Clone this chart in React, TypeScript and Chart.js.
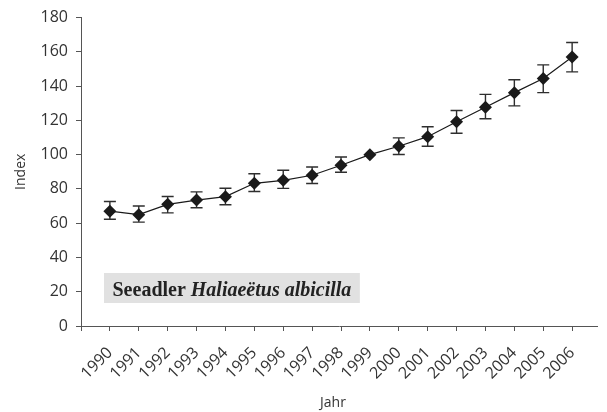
import { useEffect, useRef } from 'react';
import { Chart, registerables } from 'chart.js';

Chart.register(...registerables);

// Seeadler (white-tailed eagle) population index, 1999 = 100
const years = [1990, 1991, 1992, 1993, 1994, 1995, 1996, 1997, 1998, 1999, 2000, 2001, 2002, 2003, 2004, 2005, 2006];
const indexValues = [67, 65, 71, 73.5, 75.5, 83.3, 85, 88, 93.8, 100, 104.9, 110.5, 119.2, 127.7, 136.2, 144.5, 157];
const upperBounds: (number | null)[] = [72.7, 70, 75.6, 78.3, 80.4, 88.9, 90.9, 92.8, 98.6, null, 109.8, 116.3, 125.8, 135.2, 143.7, 152.4, 165.5];
const lowerBounds: (number | null)[] = [62.3, 60.6, 66, 69, 70.8, 78.5, 80.3, 83.2, 89.7, null, 100.1, 104.9, 112.5, 121, 128.5, 136.2, 148.3];
const yTicks = [0, 20, 40, 60, 80, 100, 120, 140, 160, 180];

const xTitle = 'Jahr';
const yTitle = 'Index';
const speciesName = 'Seeadler ';
const speciesLatin = 'Haliaeëtus albicilla';

const sansFont = '"Open Sans", "DejaVu Sans", sans-serif';
const serifFont = '"Liberation Serif", "DejaVu Serif", serif';
const axisColor = '#555555';
const textColor = '#333333';

const errorBars = {
  id: 'errorBars',
  beforeDatasetsDraw(chart: any) {
    const { ctx, scales } = chart;
    const x = scales.x;
    const y = scales.y;
    ctx.save();
    ctx.strokeStyle = '#2e2e2e';
    ctx.lineWidth = 1.4;
    years.forEach((yr, i) => {
      const hi = upperBounds[i];
      const lo = lowerBounds[i];
      if (hi == null || lo == null) return;
      const px = x.getPixelForValue(yr);
      const pt = y.getPixelForValue(hi);
      const pb = y.getPixelForValue(lo);
      ctx.beginPath();
      ctx.moveTo(px, pt);
      ctx.lineTo(px, pb);
      ctx.moveTo(px - 6, pt);
      ctx.lineTo(px + 6, pt);
      ctx.moveTo(px - 6, pb);
      ctx.lineTo(px + 6, pb);
      ctx.stroke();
    });
    ctx.restore();
  },
};

const labels = {
  id: 'labels',
  afterDraw(chart: any) {
    const { ctx, chartArea } = chart;
    ctx.save();
    ctx.fillStyle = textColor;
    ctx.font = `14px ${sansFont}`;
    ctx.textAlign = 'center';
    ctx.textBaseline = 'alphabetic';
    ctx.fillText(xTitle, 333, 407);

    ctx.translate(25, (chartArea.top + chartArea.bottom) / 2);
    ctx.rotate(-Math.PI / 2);
    ctx.fillText(yTitle, 0, 0);
    ctx.restore();

    // species label box
    ctx.save();
    const boldFont = `bold 20px ${serifFont}`;
    const italicFont = `italic bold 20px ${serifFont}`;
    ctx.font = boldFont;
    const w1 = ctx.measureText(speciesName).width;
    ctx.font = italicFont;
    const w2 = ctx.measureText(speciesLatin).width;
    const boxLeft = chartArea.left + 23;
    const boxTop = 273;
    const padX = 8.5;
    ctx.fillStyle = '#e1e1e1';
    ctx.fillRect(boxLeft, boxTop, w1 + w2 + padX * 2, 30);
    ctx.fillStyle = '#222222';
    ctx.textAlign = 'left';
    ctx.textBaseline = 'alphabetic';
    ctx.font = boldFont;
    ctx.fillText(speciesName, boxLeft + padX, 296);
    ctx.font = italicFont;
    ctx.fillText(speciesLatin, boxLeft + padX + w1, 296);
    ctx.restore();
  },
};

export default function App() {
  const canvasRef = useRef<HTMLCanvasElement | null>(null);

  useEffect(() => {
    if (!canvasRef.current) return;
    const chart = new Chart(canvasRef.current, {
      type: 'line',
      data: {
        datasets: [
          {
            data: years.map((yr, i) => ({ x: yr, y: indexValues[i] })),
            borderColor: '#1a1a1a',
            borderWidth: 1.2,
            pointStyle: 'rectRot',
            pointRadius: 6.5,
            pointBackgroundColor: '#1a1a1a',
            pointBorderColor: '#1a1a1a',
            pointBorderWidth: 0,
            tension: 0,
            fill: false,
          },
        ],
      },
      options: {
        responsive: false,
        animation: false,
        layout: { padding: { top: 16, left: 0, right: 0, bottom: 0 } },
        plugins: {
          legend: { display: false },
          tooltip: { enabled: false },
          title: { display: false },
        },
        scales: {
          x: {
            type: 'linear',
            min: 1989,
            max: 2006.88,
            afterBuildTicks(scale: any) {
              scale.ticks = [1989, ...years].map((v) => ({ value: v }));
            },
            afterFit(scale: any) {
              scale.height = 86;
            },
            grid: {
              display: true,
              drawOnChartArea: false,
              drawTicks: true,
              tickLength: 5,
              color: axisColor,
            },
            border: { display: true, color: axisColor, width: 1 },
            ticks: {
              autoSkip: false,
              maxRotation: 45,
              minRotation: 45,
              padding: 4,
              color: textColor,
              font: { family: sansFont, size: 16, lineHeight: 2.7 },
              callback: (v: any) => (years.includes(Number(v)) ? String(v) : ''),
            },
          },
          y: {
            type: 'linear',
            min: 0,
            max: 180,
            afterBuildTicks(scale: any) {
              scale.ticks = yTicks.map((v) => ({ value: v }));
            },
            afterFit(scale: any) {
              scale.width = 81;
            },
            grid: {
              display: true,
              drawOnChartArea: false,
              drawTicks: true,
              tickLength: 5,
              color: axisColor,
            },
            border: { display: true, color: axisColor, width: 1 },
            ticks: {
              padding: 8,
              color: textColor,
              font: { family: sansFont, size: 16 },
            },
          },
        },
      },
      plugins: [errorBars, labels],
    });
    return () => chart.destroy();
  }, []);

  return (
    <div style={{ position: 'absolute', left: 0, top: 0, width: 607, height: 412, background: '#ffffff' }}>
      <canvas ref={canvasRef} width={607} height={412} style={{ display: 'block' }} />
    </div>
  );
}
